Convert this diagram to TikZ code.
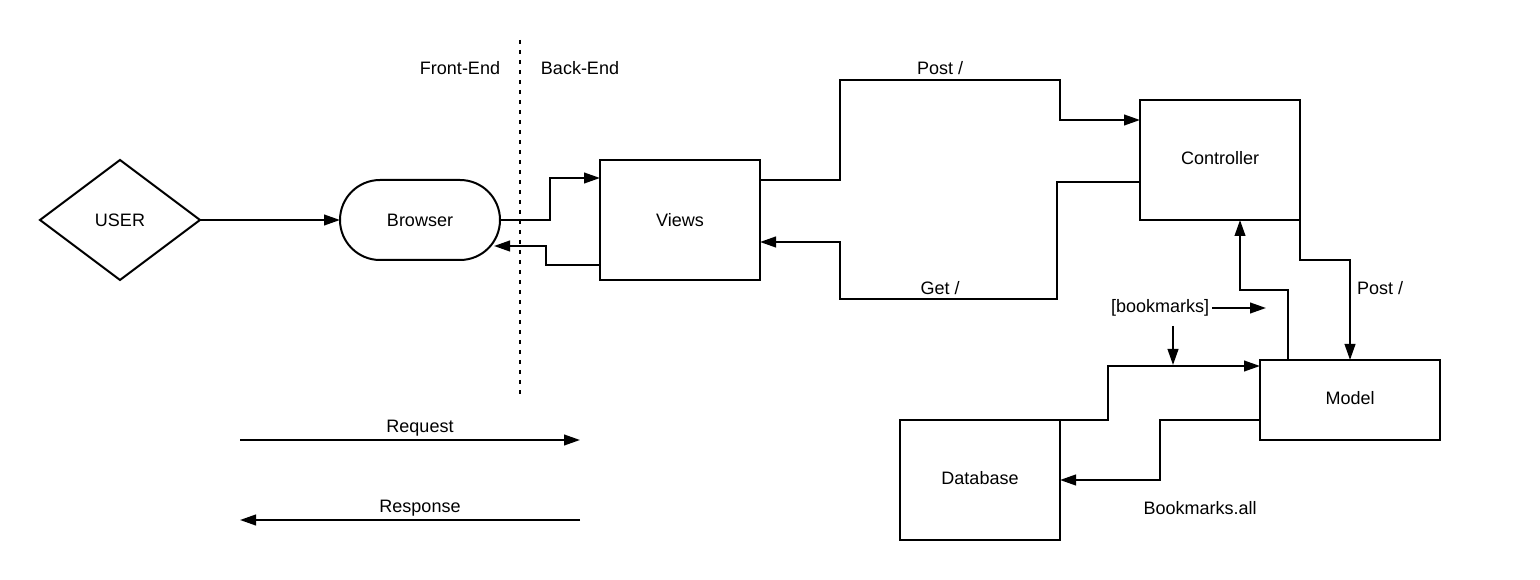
\documentclass[tikz,border=0pt]{standalone}
\usepackage{fontspec}
\setmainfont{Liberation Sans}
\usetikzlibrary{shapes.geometric,arrows.meta,calc}
\begin{document}
\begin{tikzpicture}[x=0.75pt,y=-0.75pt,
  every node/.style={font=\fontsize{13.5}{16}\selectfont,outer sep=0pt},
  box/.style={draw,line width=1.5pt,minimum width=120pt,minimum height=90pt,inner sep=0pt},
  arr/.style={line width=1.5pt,-{Triangle[length=12pt,width=8pt]}}]
\useasboundingbox (0,0) rectangle (1540,580);
% nodes
\node[draw,diamond,line width=1.5pt,minimum width=120pt,minimum height=90pt,inner sep=0pt] (user) at (120,220) {USER};
\node[draw,line width=1.5pt,rounded corners=30pt,minimum width=120pt,minimum height=60pt,inner sep=0pt] (browser) at (420,220) {Browser};
\node[box] (views) at (680,220) {Views};
\node[box,anchor=north west] (ctrl) at (1140,100) {};
\node at (1220,158) (ctrlt) {Controller};
\node[box,minimum width=135pt,minimum height=60pt,anchor=north west] (model) at (1260,360) {};
\node at (1350,398) (modelt) {Model};
\node[box,anchor=north west] (db) at (900,420) {};
\node at (980,478) (dbt) {Database};
% divider
\coordinate (divtop) at (520,40);
\coordinate (divbot) at (520,400);
\draw[line width=1.5pt,dash pattern=on 3pt off 4.5pt] (divtop) -- (divbot);
\node (fe) at (460,68) {Front-End};
\node (be) at (580,68) {Back-End};
% connectors
\draw[arr] (user.east) -- (browser.west);
\draw[arr] (browser.east) -- (550,220) |- ($(views.north west)+(0,18)$);
\coordinate (brin) at ($(browser.east)+(-6,26)$);
\draw[arr] ($(views.south west)+(0,-15)$) -- (546,265) |- (brin);
\draw[arr] ($(views.north east)+(0,20)$) -- (840,180) -- (840,80) -- (1060,80) |- ($(ctrl.north west)+(0,20)$);
\node (post1) at (940,68) {Post /};
\draw[arr] ($(ctrl.north west)+(0,82)$) -- (1057,182) -- (1057,299) -- (840,299) |- ($(views.north east)+(0,82)$);
\node (get1) at (940,288) {Get /};
\draw[arr] (ctrl.south east) -- (1300,260) -| ($(model.north west)+(90,0)$);
\node (post2) at (1380,288) {Post /};
\draw[arr] ($(model.north west)+(28,0)$) -- (1288,290) -| ($(ctrl.south west)+(100,0)$);
\node (bm) at (1160,308) {[bookmarks]};
\coordinate (bml) at (1212,308);
\coordinate (bmr) at (1266,308);
\draw[arr] (bml) -- (bmr);
\coordinate (bmu) at (1173,326);
\coordinate (bmd) at (1173,365);
\draw[arr] (bmu) -- (bmd);
\draw[arr] (db.north east) -- (1108,420) |- ($(model.north west)+(0,6)$);
\draw[arr] ($(model.north west)+(0,60)$) -- (1160,420) |- ($(db.north east)+(0,60)$);
\node (ball) at (1200,508) {Bookmarks.all};
% legend
\coordinate (rq1) at (240,440);
\coordinate (rq2) at (580,440);
\draw[arr] (rq1) -- (rq2);
\node (rq) at (420,428) {Request};
\coordinate (rs1) at (580,520);
\coordinate (rs2) at (240,520);
\draw[arr] (rs1) -- (rs2);
\node (rs) at (420,508) {Response};
\end{tikzpicture}
\end{document}
